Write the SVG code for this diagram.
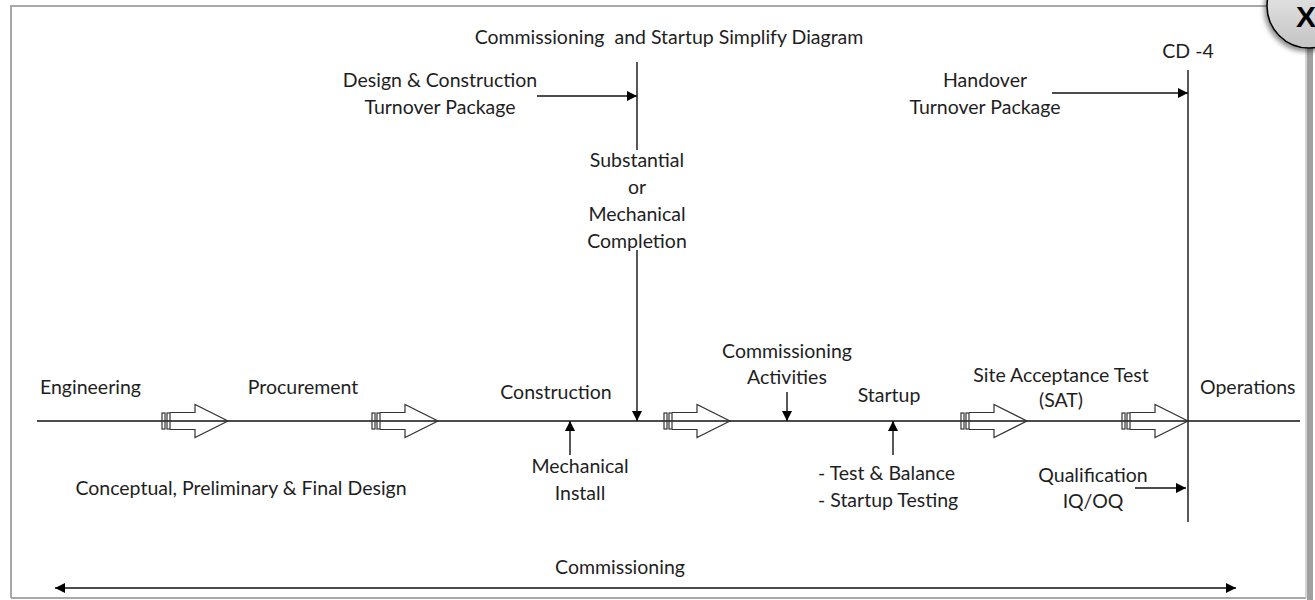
<svg xmlns="http://www.w3.org/2000/svg" width="1315" height="600" viewBox="0 0 1315 600">
  <style>
    text { font-family: Lato, "Open Sans", "Liberation Sans", sans-serif; font-size: 19.5px; fill: #1e1e1e; }
    .c { text-anchor: middle; }
    .ln { stroke: #111; stroke-width: 1.4; fill: none; }
    .blk { stroke: #333; stroke-width: 1.2; fill: none; }
  </style>
  <defs>
    <marker id="ah" viewBox="0 0 10 10" refX="10" refY="5" markerWidth="10" markerHeight="10" markerUnits="userSpaceOnUse" orient="auto">
      <path d="M0,0 L10,5 L0,10 Z" fill="#000"/>
    </marker>
    <marker id="ahs" viewBox="0 0 10 10" refX="0" refY="5" markerWidth="10" markerHeight="10" markerUnits="userSpaceOnUse" orient="auto">
      <path d="M10,0 L0,5 L10,10 Z" fill="#000"/>
    </marker>
    <!-- hollow block arrow with twin tabs, tip at origin -->
    <g id="blockArrow">
      <rect class="blk" x="-66" y="-8" width="3" height="16"/>
      <rect class="blk" x="-61" y="-8" width="3" height="16"/>
      <path class="blk" d="M-58,-8.5 L-33,-8.5 L-33,-16.5 L0,0 L-33,16.5 L-33,8.5 L-58,8.5"/>
    </g>
    <linearGradient id="btnFill" x1="0" y1="0" x2="0" y2="1">
      <stop offset="0" stop-color="#f2f2f2"/>
      <stop offset="1" stop-color="#c4c4c4"/>
    </linearGradient>
    <filter id="btnShadow" x="-30%" y="-30%" width="160%" height="160%">
      <feDropShadow dx="-2" dy="3" stdDeviation="2.5" flood-color="#000" flood-opacity="0.45"/>
    </filter>
  </defs>

  <rect width="1315" height="600" fill="#fff"/>

  <!-- frame -->
  <g id="frame">
    <path d="M11,598 L11,6 L1280,6" fill="none" stroke="#a8a8a8" stroke-width="2"/>
    <line x1="11" y1="598" x2="1306" y2="598" stroke="#a8a8a8" stroke-width="2"/>
    <line x1="1306" y1="40" x2="1306" y2="598" stroke="#c8c8c8" stroke-width="1.5"/>
    <rect x="1307" y="40" width="6" height="560" fill="#a0a0a0"/>
  </g>

  <!-- close button -->
  <g id="closeButton">
    <circle cx="1309" cy="6" r="42" fill="url(#btnFill)" stroke="#000" stroke-width="1.5" filter="url(#btnShadow)"/>
    <text x="1306" y="27" class="c" style="font-family:'Liberation Sans',Arial,sans-serif;font-weight:bold;font-size:30px;fill:#000">X</text>
  </g>

  <!-- connectors -->
  <g id="connectors">
    <line class="ln" x1="37" y1="421" x2="1300" y2="421"/>
    <line class="ln" x1="637" y1="62" x2="637" y2="421" marker-end="url(#ah)"/>
    <line class="ln" x1="1188" y1="70" x2="1188" y2="522"/>
    <line class="ln" x1="537" y1="96" x2="637" y2="96" marker-end="url(#ah)"/>
    <line class="ln" x1="1052" y1="93" x2="1188" y2="93" marker-end="url(#ah)"/>
    <line class="ln" x1="1135" y1="488" x2="1186" y2="488" marker-end="url(#ah)"/>
    <line class="ln" x1="570" y1="455" x2="570" y2="421" marker-end="url(#ah)"/>
    <line class="ln" x1="787" y1="392" x2="787" y2="421" marker-end="url(#ah)"/>
    <line class="ln" x1="893" y1="455" x2="893" y2="421" marker-end="url(#ah)"/>
    <line class="ln" x1="55" y1="588" x2="1236" y2="588" marker-start="url(#ahs)" marker-end="url(#ah)"/>
    <use href="#blockArrow" x="228" y="421"/>
    <use href="#blockArrow" x="438" y="421"/>
    <use href="#blockArrow" x="730" y="421"/>
    <use href="#blockArrow" x="1027" y="421"/>
    <use href="#blockArrow" x="1188" y="421"/>
  </g>

  <g id="title"><text class="c" x="669" y="44" xml:space="preserve">Commissioning  and Startup Simplify Diagram</text></g>
  <g id="designTurnover"><text class="c" x="440" y="87">Design &amp; Construction</text><text class="c" x="440" y="114">Turnover Package</text></g>
  <g id="handoverTurnover"><text class="c" x="985" y="87">Handover</text><text class="c" x="985" y="114">Turnover Package</text></g>
  <g id="cd4"><text class="c" x="1188" y="58">CD -4</text></g>
  <g id="completion">
    <!-- label sits on the connector with an opaque backdrop -->
    <rect x="628" y="150" width="18" height="100" fill="#fff"/>
    <text class="c" x="637" y="167">Substantial</text>
    <text class="c" x="637" y="194">or</text>
    <text class="c" x="637" y="221">Mechanical</text>
    <text class="c" x="637" y="248">Completion</text>
  </g>
  <g id="engineering"><text x="40" y="394">Engineering</text></g>
  <g id="procurement"><text class="c" x="303" y="394">Procurement</text></g>
  <g id="construction"><text class="c" x="556" y="399">Construction</text></g>
  <g id="commissioningActivities"><text class="c" x="787" y="358">Commissioning</text><text class="c" x="787" y="384">Activities</text></g>
  <g id="startup"><text class="c" x="889" y="402">Startup</text></g>
  <g id="sat"><text class="c" x="1061" y="382">Site Acceptance Test</text><text class="c" x="1061" y="407">(SAT)</text></g>
  <g id="operations"><text x="1200" y="394">Operations</text></g>
  <g id="design"><text class="c" x="241" y="495">Conceptual, Preliminary &amp; Final Design</text></g>
  <g id="mechanicalInstall"><text class="c" x="580" y="473">Mechanical</text><text class="c" x="580" y="500">Install</text></g>
  <g id="startupTasks"><text x="818" y="480">- Test &amp; Balance</text><text x="818" y="507">- Startup Testing</text></g>
  <g id="qualification"><text class="c" x="1093" y="482">Qualification</text><text class="c" x="1093" y="508">IQ/OQ</text></g>
  <g id="commissioningSpan"><text class="c" x="620" y="574">Commissioning</text></g>
</svg>
